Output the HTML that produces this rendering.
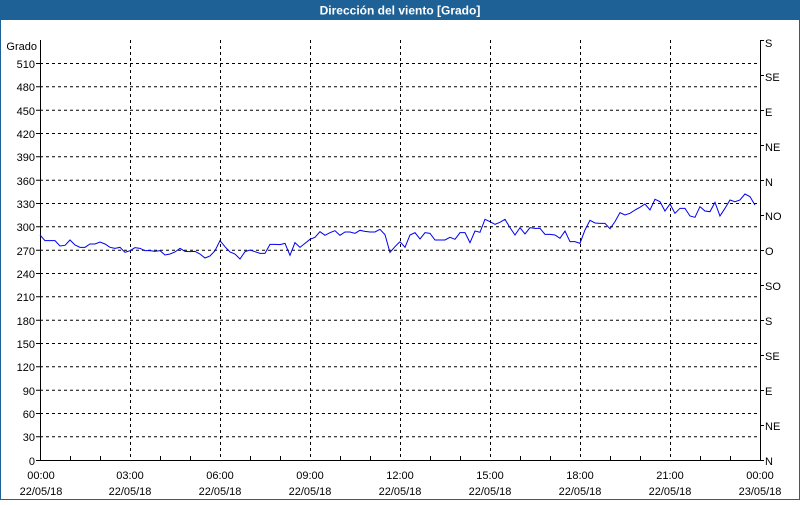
<!DOCTYPE html>
<html><head><meta charset="utf-8"><style>
body{margin:0;width:800px;height:500px;overflow:hidden;background:#fff;font-family:"Liberation Sans","DejaVu Sans",sans-serif}
</style></head><body>
<svg width="800" height="500" xmlns="http://www.w3.org/2000/svg" font-family="Liberation Sans, DejaVu Sans, sans-serif" font-size="11">
<rect x="0" y="0" width="800" height="500" fill="#fff"/>
<rect x="0.5" y="0.5" width="799" height="499" fill="none" stroke="#1e6197" stroke-width="1"/>
<rect x="0" y="0" width="800" height="20" fill="#1e6197"/>
<text x="400" y="14.5" fill="#fff" font-weight="bold" font-size="12" text-anchor="middle">Dirección del viento [Grado]</text>
<g stroke="#000" stroke-dasharray="3,3" stroke-width="1" fill="none">
<path d="M40 63.5H760M40 86.8H760M40 110.2H760M40 133.5H760M40 156.8H760M40 180.2H760M40 203.5H760M40 226.8H760M40 250.2H760M40 273.5H760M40 296.8H760M40 320.2H760M40 343.5H760M40 366.8H760M40 390.2H760M40 413.5H760M40 436.8H760"/>
<path d="M130.5 40V460M220.5 40V460M310.5 40V460M400.5 40V460M490.5 40V460M580.5 40V460M670.5 40V460"/>
</g>
<g stroke="#000" stroke-width="1" fill="none">
<path d="M40.5 40V460.5H760.5V40"/>
<path d="M70.5 460V456M100.5 460V456M160.5 460V456M190.5 460V456M250.5 460V456M280.5 460V456M340.5 460V456M370.5 460V456M430.5 460V456M460.5 460V456M520.5 460V456M550.5 460V456M610.5 460V456M640.5 460V456M700.5 460V456M730.5 460V456"/>
<path d="M36 63.5H40M36 86.8H40M36 110.2H40M36 133.5H40M36 156.8H40M36 180.2H40M36 203.5H40M36 226.8H40M36 250.2H40M36 273.5H40M36 296.8H40M36 320.2H40M36 343.5H40M36 366.8H40M36 390.2H40M36 413.5H40M36 436.8H40M36 460.5H40"/>
<path d="M760 40.5H764M760 75.5H764M760 110.5H764M760 145.5H764M760 180.5H764M760 215.5H764M760 250.5H764M760 285.5H764M760 320.5H764M760 355.5H764M760 390.5H764M760 425.5H764M760 460.5H764"/>
</g>
<g text-anchor="end" fill="#000">
<text x="37" y="50">Grado</text>
<text x="35" y="68">510</text><text x="35" y="91">480</text><text x="35" y="115">450</text><text x="35" y="138">420</text><text x="35" y="161">390</text><text x="35" y="185">360</text><text x="35" y="208">330</text><text x="35" y="231">300</text><text x="35" y="255">270</text><text x="35" y="278">240</text><text x="35" y="301">210</text><text x="35" y="325">180</text><text x="35" y="348">150</text><text x="35" y="371">120</text><text x="35" y="395">90</text><text x="35" y="418">60</text><text x="35" y="441">30</text><text x="35" y="465">0</text>
</g>
<g fill="#000">
<text x="765" y="47">S</text><text x="765" y="81">SE</text><text x="765" y="116">E</text><text x="765" y="151">NE</text><text x="765" y="186">N</text><text x="765" y="220">NO</text><text x="765" y="255">O</text><text x="765" y="290">SO</text><text x="765" y="325">S</text><text x="765" y="360">SE</text><text x="765" y="395">E</text><text x="765" y="430">NE</text><text x="765" y="465">N</text>
</g>
<g text-anchor="middle" fill="#000">
<text x="41" y="479">00:00</text><text x="41" y="495">22/05/18</text>
<text x="130" y="479">03:00</text><text x="130" y="495">22/05/18</text>
<text x="220" y="479">06:00</text><text x="220" y="495">22/05/18</text>
<text x="310" y="479">09:00</text><text x="310" y="495">22/05/18</text>
<text x="400" y="479">12:00</text><text x="400" y="495">22/05/18</text>
<text x="490" y="479">15:00</text><text x="490" y="495">22/05/18</text>
<text x="580" y="479">18:00</text><text x="580" y="495">22/05/18</text>
<text x="670" y="479">21:00</text><text x="670" y="495">22/05/18</text>
<text x="760" y="479">00:00</text><text x="760" y="495">23/05/18</text>
</g>
<g fill="none" stroke="#0000ee" stroke-width="1">
<polyline vector-effect="non-scaling-stroke" transform="translate(40,220) scale(0.3333)" points="0,45 15,62 45,62 60,78 75,76 90,60 105,75 120,82 135,82 150,72 165,72 180,66 195,72 210,82 225,85 240,82 255,97 270,92 285,83 300,85 315,92 330,92 345,94 360,92 375,105 390,102 405,96 420,85 435,94 450,95 465,94 480,102 495,114 510,108 525,92 540,62 555,80 570,96 585,102 600,117 615,95 630,90 645,95 660,100 675,100 690,73 705,73 720,74 735,70 750,106 765,68 780,82 795,70 810,58 825,52 840,35 855,46 870,38 885,32 900,46 915,36 930,36 945,40 960,31 975,34 990,36 1005,36 1020,28 1035,44 1050,97 1065,80 1080,65"/>
<polyline vector-effect="non-scaling-stroke" transform="translate(400,185) scale(0.3333)" points="0,170 15,187 30,150 45,143 60,162 75,143 90,145 105,165 120,165 135,165 150,157 165,163 180,143 195,143 210,173 225,138 240,142 255,103 270,110 285,118 300,112 315,103 330,128 345,150 360,128 375,147 390,128 405,130 420,130 435,148 450,148 465,150 480,160 495,138 510,170 525,170 540,175 555,135 570,106 585,114 600,115 615,115 630,131 645,110 660,83 675,90 690,85 705,75 720,67 735,57 750,75 765,43 780,50 795,78 810,57 825,85 840,70 855,70 870,93 885,97 900,65 915,78 930,80 945,52 960,93 975,70 990,45 1005,50 1020,45 1035,27 1050,35 1065,60"/>
</g>
</svg>
</body></html>
